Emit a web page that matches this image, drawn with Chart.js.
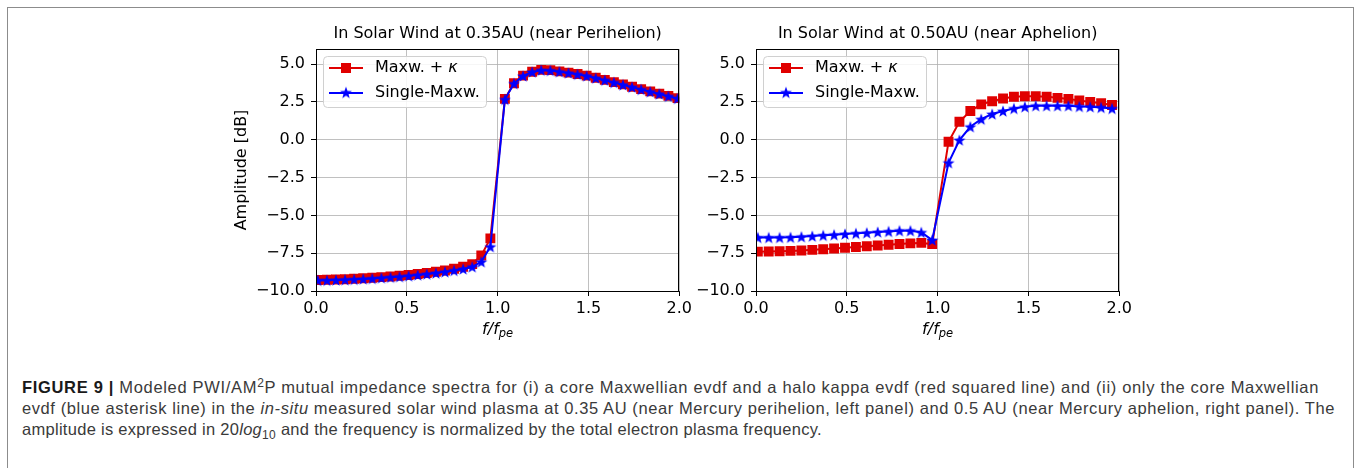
<!DOCTYPE html>
<html>
<head>
<meta charset="utf-8">
<script src="https://cdn.jsdelivr.net/npm/chart.js@4"></script>
<style>
  body { margin: 0; background: #fff; width: 1360px; height: 468px; overflow: hidden; position: relative; }
  .frame { position: absolute; left: 7px; top: 7px; width: 1345px; height: 480px; border: 1px solid #8c8c8c; }
  .box { position: absolute; top: 18px; width: 470px; height: 330px; }
  .caption { position: absolute; left: 22px; top: 377px; font-family: "Liberation Sans", Arial, sans-serif; font-size: 16.5px; line-height: 21px; color: #3a3a3a; }
  .caption div { white-space: nowrap; width: max-content; }
  .caption b { color: #1a1a1a; }
  .caption sup, .caption sub { font-size: 12px; line-height: 0; }
</style>
</head>
<body>
<div class="frame"></div>
<div class="box" style="left:225px"><canvas id="leftchart"></canvas></div>
<div class="box" style="left:665px"><canvas id="rightchart"></canvas></div>
<div class="caption">
  <div data-w="1297"><b>FIGURE 9 |</b> Modeled PWI/AM<sup>2</sup>P mutual impedance spectra for (i) a core Maxwellian evdf and a halo kappa evdf (red squared line) and (ii) only the core Maxwellian</div>
  <div data-w="1313">evdf (blue asterisk line) in the <i>in-situ</i> measured solar wind plasma at 0.35 AU (near Mercury perihelion, left panel) and 0.5 AU (near Mercury aphelion, right panel). The</div>
  <div data-w="800">amplitude is expressed in 20<i>log</i><sub>10</sub> and the frequency is normalized by the total electron plasma frequency.</div>
</div>
<script>
// f/f_pe sample points and amplitudes [dB]
const leftX = [0.01, 0.06, 0.11, 0.16, 0.21, 0.26, 0.31, 0.36, 0.41, 0.46, 0.51, 0.56, 0.61, 0.66, 0.71, 0.76, 0.81, 0.86, 0.91, 0.96,
               1.04, 1.09, 1.14, 1.19, 1.24, 1.29, 1.34, 1.39, 1.44, 1.49, 1.54, 1.59, 1.64, 1.69, 1.74, 1.79, 1.84, 1.89, 1.94, 1.99];
const leftKappa = [-9.27, -9.26, -9.24, -9.22, -9.19, -9.16, -9.12, -9.08, -9.04, -8.99, -8.94, -8.88, -8.81, -8.73, -8.64, -8.53, -8.40, -8.22, -7.65, -6.52,
                   2.70, 3.74, 4.24, 4.50, 4.62, 4.60, 4.52, 4.44, 4.35, 4.24, 4.10, 3.96, 3.81, 3.66, 3.50, 3.35, 3.20, 3.05, 2.90, 2.75];
const leftSingle = [-9.30, -9.29, -9.27, -9.25, -9.23, -9.20, -9.17, -9.13, -9.09, -9.05, -9.00, -8.94, -8.88, -8.81, -8.73, -8.64, -8.54, -8.40, -8.07, -7.07,
                    2.67, 3.72, 4.22, 4.48, 4.60, 4.58, 4.50, 4.42, 4.33, 4.22, 4.08, 3.94, 3.79, 3.64, 3.48, 3.33, 3.18, 3.03, 2.88, 2.73];

const rightX = [0.01, 0.07, 0.13, 0.19, 0.25, 0.31, 0.37, 0.43, 0.49, 0.55, 0.61, 0.67, 0.73, 0.79, 0.85, 0.91, 0.97,
                1.06, 1.12, 1.18, 1.24, 1.30, 1.36, 1.42, 1.48, 1.54, 1.60, 1.66, 1.72, 1.78, 1.84, 1.90, 1.96];
const rightKappa = [-7.40, -7.39, -7.37, -7.35, -7.32, -7.28, -7.24, -7.19, -7.14, -7.09, -7.04, -6.99, -6.94, -6.89, -6.85, -6.82, -6.90,
                    -0.13, 1.19, 1.90, 2.34, 2.55, 2.73, 2.84, 2.88, 2.88, 2.84, 2.77, 2.70, 2.60, 2.50, 2.42, 2.30];
const rightSingle = [-6.46, -6.46, -6.46, -6.45, -6.41, -6.37, -6.32, -6.28, -6.23, -6.19, -6.15, -6.10, -6.06, -6.01, -6.01, -6.12, -6.63,
                     -1.52, -0.02, 0.86, 1.36, 1.70, 1.90, 2.07, 2.18, 2.25, 2.25, 2.25, 2.25, 2.20, 2.18, 2.14, 2.07];

const xTicks = [0.0, 0.5, 1.0, 1.5, 2.0];
const yTicks = [-10.0, -7.5, -5.0, -2.5, 0.0, 2.5, 5.0];
const seriesNames = ['Maxw. + ', 'Single-Maxw.'];
const panelTitles = ['In Solar Wind at 0.35AU (near Perihelion)', 'In Solar Wind at 0.50AU (near Aphelion)'];

const RED = '#e00000';
const BLUE = '#0000ff';
const FONT = 'DejaVu Sans';
const FS = 16;

// filled five point star, like matplotlib's '*' marker
function makeStar(color) {
    const c = document.createElement('canvas');
    c.width = 14; c.height = 14;
    const g = c.getContext('2d');
    g.fillStyle = color;
    g.beginPath();
    for (let i = 0; i < 10; i++) {
        const r = i % 2 === 0 ? 6.3 : 2.6;
        const a = -Math.PI / 2 + i * Math.PI / 5;
        const px = 7 + r * Math.cos(a), py = 7.6 + r * Math.sin(a);
        if (i === 0) g.moveTo(px, py); else g.lineTo(px, py);
    }
    g.closePath();
    g.fill();
    return c;
}
const star = makeStar(BLUE);

function fmt(v) {
    return v.toFixed(1).replace('-', '\u2212');
}

// title over the plot area, spines on all four sides, legend with line + marker, f/f_pe label
const framePlugin = {
    id: 'frame',
    afterDraw(chart, args, opts) {
        const ctx = chart.ctx;
        const a = chart.chartArea;
        const cx = (a.left + a.right) / 2;
        ctx.save();
        ctx.strokeStyle = '#000';
        ctx.lineWidth = 1;
        ctx.strokeRect(Math.round(a.left) + 0.5, Math.round(a.top) + 0.5, Math.round(a.right - a.left) - 1, Math.round(a.bottom - a.top));

        ctx.fillStyle = '#000';
        ctx.textBaseline = 'middle';
        ctx.textAlign = 'center';
        ctx.font = FS + 'px "' + FONT + '"';
        ctx.fillText(opts.title, cx, a.top - 15);

        // legend
        const bx = a.left + 7, by = a.top + 7, bw = 163, bh = 51;
        ctx.fillStyle = 'rgba(255,255,255,0.85)';
        ctx.strokeStyle = '#d0d0d0';
        ctx.beginPath();
        ctx.roundRect(bx + 0.5, by + 0.5, bw, bh, 4);
        ctx.fill();
        ctx.stroke();

        const rows = [by + 12, by + 37];
        ctx.lineWidth = 2;
        ctx.strokeStyle = RED;
        ctx.beginPath(); ctx.moveTo(bx + 6, rows[0]); ctx.lineTo(bx + 40, rows[0]); ctx.stroke();
        ctx.fillStyle = RED;
        ctx.fillRect(bx + 23 - 5, rows[0] - 5, 10, 10);
        ctx.strokeStyle = BLUE;
        ctx.beginPath(); ctx.moveTo(bx + 6, rows[1]); ctx.lineTo(bx + 40, rows[1]); ctx.stroke();
        ctx.drawImage(star, bx + 23 - 7, rows[1] - 7.6);

        ctx.fillStyle = '#000';
        ctx.textAlign = 'left';
        ctx.font = FS + 'px "' + FONT + '"';
        ctx.fillText(seriesNames[0], bx + 52, rows[0]);
        const w0 = ctx.measureText(seriesNames[0]).width;
        ctx.font = 'italic ' + FS + 'px "' + FONT + '"';
        ctx.fillText('\u03ba', bx + 52 + w0, rows[0]);
        ctx.font = FS + 'px "' + FONT + '"';
        ctx.fillText(seriesNames[1], bx + 52, rows[1]);

        // x axis label f/f_pe
        const ty = a.bottom + 39;
        ctx.font = 'italic ' + FS + 'px "' + FONT + '"';
        const wMain = ctx.measureText('f/f').width;
        ctx.font = 'italic 11.5px "' + FONT + '"';
        const wSub = ctx.measureText('pe').width;
        const x0 = cx - (wMain + wSub) / 2;
        ctx.font = 'italic ' + FS + 'px "' + FONT + '"';
        ctx.fillText('f/f', x0, ty);
        ctx.font = 'italic 11.5px "' + FONT + '"';
        ctx.fillText('pe', x0 + wMain, ty + 4);
        ctx.restore();
    }
};

function buildChart(canvasId, title, xs, kappa, single, showYTitle) {
    const ctx = document.getElementById(canvasId).getContext('2d');
    return new Chart(ctx, {
        type: 'line',
        data: {
            datasets: [
                {
                    label: seriesNames[0] + '\u03ba',
                    data: xs.map((x, i) => ({ x: x, y: kappa[i] })),
                    borderColor: RED,
                    backgroundColor: RED,
                    borderWidth: 2,
                    pointStyle: 'rect',
                    pointRadius: 7,
                    pointBorderWidth: 0,
                    tension: 0,
                    clip: 0,
                    order: 2
                },
                {
                    label: seriesNames[1],
                    data: xs.map((x, i) => ({ x: x, y: single[i] })),
                    borderColor: BLUE,
                    backgroundColor: BLUE,
                    borderWidth: 2,
                    pointStyle: star,
                    pointRadius: 4,
                    tension: 0,
                    clip: 0,
                    order: 1
                }
            ]
        },
        options: {
            responsive: true,
            maintainAspectRatio: false,
            animation: false,
            events: [],
            layout: { padding: { left: 0, right: 13, top: 31, bottom: 0 } },
            plugins: {
                legend: { display: false },
                tooltip: { enabled: false },
                title: { display: false },
                frame: { title: title }
            },
            scales: {
                x: {
                    type: 'linear',
                    min: 0,
                    max: 2,
                    afterBuildTicks: s => { s.ticks = xTicks.map(v => ({ value: v })); },
                    afterFit: s => { s.height = 57; },
                    grid: { color: '#b0b0b0', lineWidth: 0.8, tickColor: '#000', tickLength: 5, tickWidth: 1 },
                    border: { display: true, color: '#000', width: 1 },
                    ticks: {
                        color: '#000',
                        padding: 3,
                        maxRotation: 0,
                        font: { family: FONT, size: FS },
                        callback: v => fmt(v)
                    }
                },
                y: {
                    min: -10,
                    max: 6,
                    afterBuildTicks: s => { s.ticks = yTicks.map(v => ({ value: v })); },
                    afterFit: s => { s.width = 91; },
                    grid: { color: '#b0b0b0', lineWidth: 0.8, tickColor: '#000', tickLength: 5, tickWidth: 1 },
                    border: { display: true, color: '#000', width: 1 },
                    ticks: {
                        color: '#000',
                        padding: 6,
                        font: { family: FONT, size: FS },
                        callback: v => fmt(v)
                    },
                    title: {
                        display: showYTitle,
                        text: 'Amplitude [dB]',
                        color: '#000',
                        font: { family: FONT, size: FS },
                        padding: { top: 7, bottom: 0 }
                    }
                }
            }
        },
        plugins: [framePlugin]
    });
}

buildChart('leftchart', panelTitles[0], leftX, leftKappa, leftSingle, true);
buildChart('rightchart', panelTitles[1], rightX, rightKappa, rightSingle, false);

// stretch each caption line to the width it has in the printed figure,
// spreading the extra room over the letters rather than only the spaces
document.querySelectorAll('.caption div').forEach(line => {
    const target = parseFloat(line.dataset.w);
    const natural = line.getBoundingClientRect().width;
    const chars = line.textContent.trim().replace(/\s+/g, ' ').length;
    line.style.letterSpacing = ((target - natural) / chars).toFixed(3) + 'px';
});
</script>
</body>
</html>
